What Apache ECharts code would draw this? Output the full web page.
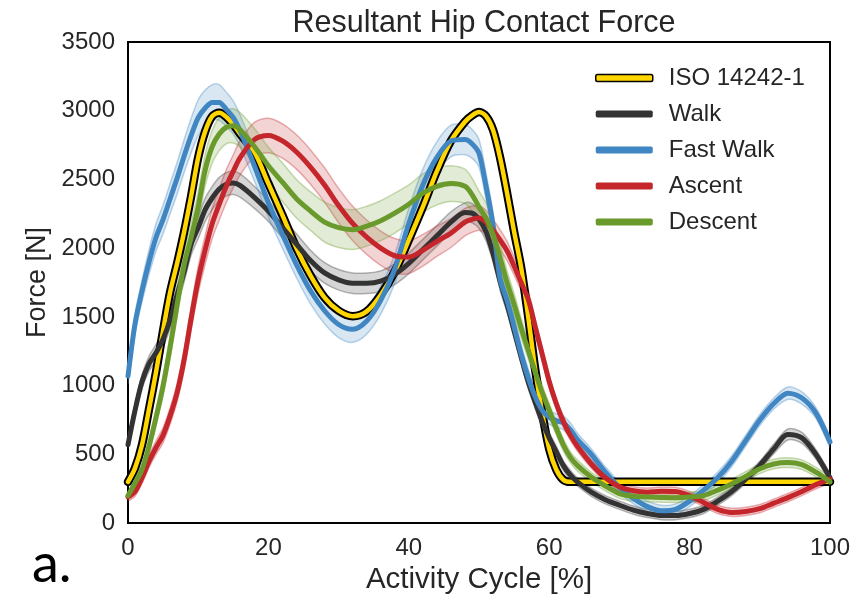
<!DOCTYPE html>
<html>
<head>
<meta charset="utf-8">
<script src="https://cdn.jsdelivr.net/npm/echarts@6/dist/echarts.min.js"></script>
<style>
  html, body { margin: 0; padding: 0; background: #fff; }
  #chart { width: 856px; height: 600px; }
</style>
</head>
<body>
<div id="chart"></div>
<script>
// Activity cycle sample points [%]
const cycle = [0,1,2,3,4,5,6,7,8,9,10,11,12,13,14,15,16,
  18,20,22,24,26,28,30,32,34,36,38,40,42,44,46,48,
  49,50,51,52,53,54,55,56,57,58,59,60,61,62,63,64,
  66,68,70,72,74,76,78,80,82,84,86,88,90,92,94,96,98,100];

// Resultant hip contact force [N]
const iso = [300,400,570,830,1100,1400,1680,1890,2120,2380,2660,2850,2960,2985,2955,2900,2830,
  2700,2470,2240,2000,1800,1640,1545,1505,1540,1660,1830,2060,2300,2560,2780,2920,
  2965,2990,2960,2860,2660,2400,2120,1860,1505,1120,800,540,390,315,300,300,
  300,300,300,300,300,300,300,300,300,300,300,300,300,300,300,300,300,300];

const walk = [570,820,1030,1160,1240,1340,1480,1660,1830,2030,2150,2280,2365,2430,2465,2475,2455,
  2370,2270,2150,2030,1910,1820,1770,1745,1745,1760,1810,1890,1990,2090,2190,2260,
  2255,2210,2120,1960,1760,1590,1400,1210,1030,880,740,620,520,420,350,300,
  225,170,130,95,70,55,55,70,100,160,230,320,420,540,645,620,500,330];

const fastWalk = [1070,1450,1690,1900,2080,2210,2360,2510,2670,2820,2950,3020,3060,3060,3010,2950,2850,
  2600,2330,2100,1880,1690,1545,1445,1410,1470,1620,1850,2180,2460,2660,2780,2790,
  2760,2690,2450,2170,1780,1620,1430,1230,1060,920,820,770,745,730,680,610,
  500,370,260,180,120,90,100,160,240,330,450,600,750,870,945,910,800,590];

const ascent = [190,230,330,450,550,640,780,950,1190,1490,1770,1990,2180,2320,2450,2560,2660,
  2790,2820,2780,2700,2590,2460,2310,2180,2080,2000,1945,1935,1985,2050,2110,2190,
  2210,2220,2190,2130,2060,1980,1870,1750,1630,1430,1230,1030,870,740,640,560,
  430,330,265,235,225,232,230,200,150,100,78,85,105,145,185,230,280,320];

const descent = [200,290,390,560,770,1000,1280,1590,1880,2080,2300,2570,2740,2830,2880,2890,2860,
  2740,2600,2480,2360,2270,2190,2150,2135,2160,2200,2255,2320,2400,2450,2470,2450,
  2390,2300,2220,2100,1930,1750,1590,1420,1260,1100,950,820,690,570,480,420,
  335,270,215,195,190,187,185,190,200,240,285,340,395,430,440,425,370,300];

// Half-widths of the shaded variability bands [N]
const walkSd = [30,40,50,55,60,60,65,70,75,80,80,85,85,85,85,85,85,
  80,75,75,75,75,75,75,75,75,75,75,75,75,75,75,70,
  70,65,65,60,60,55,55,50,50,45,45,40,40,35,35,30,
  30,30,30,30,30,30,30,30,30,30,30,30,30,35,40,40,35,30];

const fastWalkSd = [60,70,80,90,100,105,110,115,120,125,130,130,130,130,125,120,115,
  110,105,100,95,95,95,95,95,95,100,105,110,115,115,115,110,
  105,100,95,90,85,80,75,70,65,60,55,50,50,50,50,45,
  40,40,40,40,40,40,40,40,40,40,40,40,40,40,45,45,40,40];

const ascentSd = [30,35,40,45,50,55,60,65,75,85,95,105,110,115,120,120,125,
  125,125,125,125,125,125,125,125,125,125,125,120,115,110,105,100,
  95,90,85,80,75,70,65,60,60,55,50,45,40,40,35,35,
  30,30,30,30,30,30,30,30,30,30,30,30,30,30,30,30,30,30];

const descentSd = [30,35,40,50,60,70,80,90,100,105,110,115,120,120,120,125,125,
  130,135,140,140,140,145,145,145,145,145,145,140,140,135,130,125,
  120,115,110,100,95,85,80,70,65,60,55,50,45,45,40,40,
  35,35,35,35,35,35,35,35,35,35,35,35,35,35,35,35,35,35];

// Axis ticks
const xTicks = [0, 20, 40, 60, 80, 100];
const yTicks = [0, 500, 1000, 1500, 2000, 2500, 3000, 3500];

const COLORS = {
  iso: '#FFD600',
  walk: '#333333',
  fast: '#3F86C2',
  ascent: '#C4262C',
  descent: '#6A9A2B'
};
const FONT = '"Liberation Sans", Arial, sans-serif';
const TEXT = '#262626';

function pairs(ys) {
  return cycle.map((x, i) => [x, ys[i]]);
}

function rgba(hex, a) {
  const n = parseInt(hex.slice(1), 16);
  return 'rgba(' + (n >> 16 & 255) + ',' + (n >> 8 & 255) + ',' + (n & 255) + ',' + a + ')';
}

// Shaded band (mean ± half-width) drawn as one polygon plus its two edges
function band(mean, sd, color) {
  return {
    type: 'custom',
    coordinateSystem: 'cartesian2d',
    silent: true,
    clip: true,
    z: 1,
    data: [[cycle[0], mean[0]]],
    renderItem: function (params, api) {
      const up = cycle.map((x, i) => api.coord([x, mean[i] + sd[i]]));
      const lo = cycle.map((x, i) => api.coord([x, mean[i] - sd[i]]));
      const edge = { stroke: rgba(color, 0.35), lineWidth: 1.5, fill: null };
      return {
        type: 'group',
        children: [
          { type: 'polygon', shape: { points: up.concat(lo.slice().reverse()), smooth: 0.3 },
            style: { fill: rgba(color, 0.2) } },
          { type: 'polyline', shape: { points: up, smooth: 0.3 }, style: edge },
          { type: 'polyline', shape: { points: lo, smooth: 0.3 }, style: edge }
        ]
      };
    }
  };
}

function curve(name, ys, color, width, z) {
  return {
    type: 'line',
    name: name,
    data: pairs(ys),
    smooth: 0.3,
    symbol: 'none',
    z: z,
    lineStyle: { color: color, width: width, cap: 'round', join: 'round' },
    itemStyle: { color: color },
    emphasis: { disabled: true }
  };
}

const chart = echarts.init(document.getElementById('chart'), null, { renderer: 'canvas' });

chart.setOption({
  animation: false,
  backgroundColor: '#ffffff',
  title: {
    text: 'Resultant Hip Contact Force',
    left: 479,
    textAlign: 'center',
    top: 3,
    textStyle: { fontFamily: FONT, fontSize: 30.5, fontWeight: 'normal', color: TEXT }
  },
  grid: {
    left: 128, right: 26, top: 42, bottom: 76,
    show: true, borderColor: '#000', borderWidth: 2, backgroundColor: 'transparent'
  },
  legend: {
    orient: 'vertical',
    left: 590,
    top: 61,
    itemWidth: 57,
    itemHeight: 7,
    itemGap: 12,
    icon: 'roundRect',
    selectedMode: false,
    textStyle: { fontFamily: FONT, fontSize: 24, color: TEXT, lineHeight: 24, padding: [0, 0, 0, 11] },
    data: [
      { name: 'ISO 14242-1', itemStyle: { color: COLORS.iso, borderColor: '#000', borderWidth: 1.5 } },
      { name: 'Walk', itemStyle: { color: COLORS.walk, borderWidth: 0 } },
      { name: 'Fast Walk', itemStyle: { color: COLORS.fast, borderWidth: 0 } },
      { name: 'Ascent', itemStyle: { color: COLORS.ascent, borderWidth: 0 } },
      { name: 'Descent', itemStyle: { color: COLORS.descent, borderWidth: 0 } }
    ]
  },
  xAxis: {
    type: 'value',
    min: xTicks[0],
    max: xTicks[xTicks.length - 1],
    interval: xTicks[1] - xTicks[0],
    name: 'Activity Cycle [%]',
    nameLocation: 'middle',
    nameGap: 40,
    nameTextStyle: { fontFamily: FONT, fontSize: 29.5, color: TEXT },
    axisLine: { show: false },
    axisTick: { show: false },
    splitLine: { show: false },
    axisLabel: { fontFamily: FONT, fontSize: 24, color: TEXT, margin: 13 }
  },
  yAxis: {
    type: 'value',
    min: yTicks[0],
    max: yTicks[yTicks.length - 1],
    interval: yTicks[1] - yTicks[0],
    name: 'Force [N]',
    nameLocation: 'middle',
    nameGap: 77,
    nameTextStyle: { fontFamily: FONT, fontSize: 27, color: TEXT },
    axisLine: { show: false },
    axisTick: { show: false },
    splitLine: { show: false },
    axisLabel: {
      fontFamily: FONT, fontSize: 24, color: TEXT, margin: 13,
      formatter: function (v) { return String(v); }
    }
  },
  graphic: [{
    type: 'text',
    left: 32,
    top: 538,
    style: { text: 'a.', font: '54px Lato, "Open Sans", sans-serif', fill: '#000' }
  }],
  series: [
    band(walk, walkSd, COLORS.walk),
    band(fastWalk, fastWalkSd, COLORS.fast),
    band(ascent, ascentSd, COLORS.ascent),
    band(descent, descentSd, COLORS.descent),
    curve('ISO outline', iso, '#000000', 8.5, 2),
    curve('ISO 14242-1', iso, COLORS.iso, 4.5, 2),
    curve('Walk', walk, COLORS.walk, 5, 3),
    curve('Fast Walk', fastWalk, COLORS.fast, 5, 3),
    curve('Ascent', ascent, COLORS.ascent, 5, 3),
    curve('Descent', descent, COLORS.descent, 5, 3)
  ]
});
</script>
</body>
</html>
